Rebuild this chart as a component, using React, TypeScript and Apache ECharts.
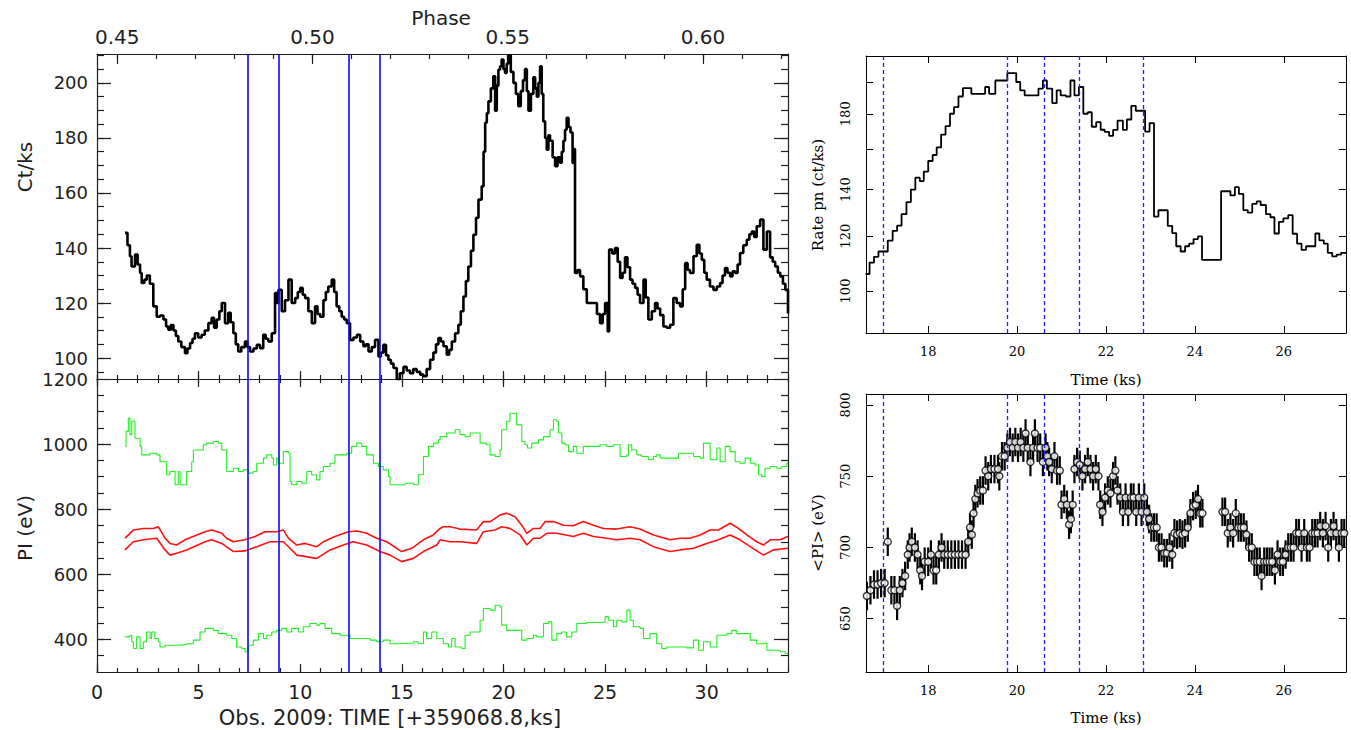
import React, { useEffect, useRef } from "react";
import * as echarts from "echarts";

// ---- Left column: light curve and PI bands vs observation time (ks) ----
const countRate: [number, number][] = [
  [1.38, 145.5], [1.5, 141], [1.62, 137], [1.7, 133.3], [1.87, 137.6], [2.0, 134], [2.12, 130.9], [2.2, 127.3],
  [2.33, 128.5], [2.45, 130], [2.6, 127], [2.77, 118.8], [2.94, 115], [3.1, 115.5], [3.27, 114], [3.4, 111.5],
  [3.51, 110.3], [3.63, 112], [3.76, 110], [3.88, 108], [4.0, 106], [4.15, 104], [4.33, 101.8], [4.45, 103.5],
  [4.58, 105.5], [4.7, 107], [4.82, 109], [4.98, 107.5], [5.15, 108.5], [5.3, 110], [5.48, 112.7], [5.64, 114.6],
  [5.76, 111], [5.89, 114], [6.02, 117], [6.14, 120], [6.3, 112.7], [6.46, 116.5], [6.58, 113], [6.71, 109],
  [6.83, 105], [6.95, 102.4], [7.1, 104], [7.28, 106], [7.4, 104], [7.53, 102.4], [7.7, 103.5], [7.86, 104.8],
  [8.02, 103.6], [8.18, 108.5], [8.3, 107], [8.43, 106], [8.6, 109], [8.76, 123.6], [8.85, 120], [8.93, 124.8],
  [9.09, 117], [9.25, 121], [9.42, 128.5], [9.58, 120], [9.75, 121.8], [9.88, 124], [10.0, 125.5], [10.12, 123],
  [10.24, 121.8], [10.4, 117], [10.57, 112.7], [10.73, 118.8], [10.85, 116], [10.98, 115], [11.14, 121], [11.26, 124],
  [11.38, 126], [11.55, 128.5], [11.67, 124], [11.79, 118.8], [11.92, 117], [12.04, 115], [12.16, 114], [12.29, 112.7],
  [12.45, 106.6], [12.62, 107.5], [12.79, 108.5], [12.95, 106], [13.11, 104.3], [13.23, 105], [13.36, 102.4], [13.52, 104],
  [13.68, 106.6], [13.85, 100.6], [13.97, 102], [14.09, 104.8], [14.22, 101], [14.34, 99.4], [14.46, 98], [14.59, 96.4],
  [14.75, 92.1], [14.9, 94.5], [15.08, 96.8], [15.24, 95.5], [15.4, 94.5], [15.56, 96], [15.73, 95], [15.9, 94],
  [16.06, 93.4], [16.22, 96], [16.39, 99.4], [16.55, 102], [16.68, 105], [16.8, 107.3], [16.92, 106], [17.05, 104.3],
  [17.21, 101.2], [17.33, 103], [17.46, 106], [17.62, 109], [17.78, 112.1], [17.9, 117], [18.03, 122.4], [18.15, 128],
  [18.27, 133.3], [18.4, 139], [18.52, 144.8], [18.65, 151], [18.77, 157.6], [18.93, 162.4], [19.02, 175], [19.1, 185.5],
  [19.18, 189], [19.26, 193.3], [19.38, 198], [19.5, 202.4], [19.59, 189.9], [19.67, 199], [19.75, 204.8], [19.83, 206],
  [19.91, 208.5], [20.0, 205], [20.08, 203.6], [20.16, 207], [20.24, 210], [20.36, 204], [20.49, 200], [20.61, 196],
  [20.73, 191.5], [20.85, 197], [20.96, 201], [21.06, 205], [21.15, 197], [21.23, 189.9], [21.35, 196], [21.47, 202],
  [21.56, 198], [21.64, 195], [21.72, 200], [21.8, 206], [21.88, 196], [21.96, 186], [22.05, 180], [22.13, 175.7],
  [22.21, 181], [22.29, 179], [22.42, 173], [22.54, 169.7], [22.66, 173], [22.78, 171], [22.87, 175], [22.95, 179],
  [23.03, 183], [23.11, 187.3], [23.2, 184], [23.3, 182], [23.4, 170.9], [23.47, 176], [23.52, 130.9], [23.64, 132],
  [23.77, 129.7], [23.93, 125], [24.1, 120], [24.27, 120], [24.43, 120], [24.6, 116], [24.75, 112.7], [24.88, 116],
  [25.0, 120], [25.13, 109.7], [25.2, 139.4], [25.35, 138], [25.49, 140], [25.62, 135], [25.74, 129.1], [25.86, 131],
  [25.98, 136.6], [26.1, 133], [26.23, 128.5], [26.35, 127], [26.48, 125.5], [26.6, 123], [26.72, 120], [26.89, 128.5],
  [27.0, 122], [27.13, 114], [27.3, 117], [27.46, 120], [27.58, 118], [27.71, 115.6], [27.87, 111.5], [28.03, 111],
  [28.2, 112.1], [28.36, 121.8], [28.52, 120], [28.69, 118.8], [28.82, 125], [28.94, 134.5], [29.06, 132], [29.18, 130.9],
  [29.35, 137], [29.51, 141.2], [29.64, 138], [29.76, 135.7], [29.88, 131], [30.0, 128.5], [30.16, 126], [30.33, 124.8],
  [30.5, 126], [30.66, 127.3], [30.78, 130], [30.9, 132.7], [31.02, 131], [31.15, 129.7], [31.27, 131.5], [31.4, 130.9],
  [31.52, 134], [31.64, 138.2], [31.8, 141], [31.97, 143], [32.1, 145], [32.22, 146], [32.34, 144], [32.46, 147.9],
  [32.63, 150.3], [32.79, 139.4], [32.96, 146], [33.12, 136.6], [33.25, 135], [33.37, 133.3], [33.5, 131], [33.62, 129.7],
  [33.75, 127], [33.87, 124.8], [34.0, 116.2],
];

const greenUpper: [number, number][] = [
  [1.38, 993], [1.43, 1039], [1.54, 1080], [1.62, 1029], [1.71, 1070], [1.87, 1018], [2.12, 993], [2.2, 967],
  [2.61, 972], [2.94, 967], [3.1, 946], [3.35, 946], [3.43, 906], [3.59, 916], [3.84, 875], [4.0, 916],
  [4.09, 875], [4.33, 875], [4.41, 916], [4.66, 946], [4.74, 982], [5.23, 998], [5.4, 1003], [5.73, 1008],
  [5.97, 1003], [6.14, 982], [6.38, 916], [6.71, 926], [6.96, 916], [7.2, 921], [7.45, 911], [7.69, 916],
  [7.86, 941], [8.19, 957], [8.35, 967], [8.6, 957], [8.68, 936], [8.84, 957], [8.92, 941], [9.17, 977],
  [9.42, 972], [9.5, 885], [9.58, 875], [9.83, 885], [10.07, 880], [10.32, 916], [10.56, 906], [10.81, 890],
  [10.97, 916], [11.14, 931], [11.47, 941], [11.71, 967], [11.96, 967], [12.29, 972], [12.53, 993], [12.78, 1003],
  [13.03, 993], [13.27, 967], [13.6, 941], [13.85, 931], [14.09, 921], [14.34, 900], [14.42, 875], [14.75, 875],
  [15.16, 880], [15.57, 875], [15.81, 906], [16.06, 962], [16.31, 993], [16.55, 1003], [16.8, 1013], [16.88, 1023],
  [17.21, 1034], [17.62, 1044], [17.86, 1029], [18.11, 1023], [18.36, 1034], [18.68, 1034], [18.85, 1003], [19.18, 998],
  [19.34, 967], [19.59, 962], [19.83, 982], [19.91, 1044], [20.16, 1070], [20.32, 1095], [20.49, 1095], [20.65, 1059],
  [20.82, 1059], [20.9, 1008], [21.06, 998], [21.18, 988], [21.39, 1003], [21.72, 1013], [21.97, 1023], [22.29, 1044],
  [22.46, 1075], [22.62, 1070], [22.7, 1034], [22.87, 1003], [23.03, 998], [23.2, 977], [23.44, 993], [23.61, 972],
  [23.93, 993], [24.43, 993], [24.75, 998], [25.08, 993], [25.41, 998], [25.74, 962], [26.07, 967], [26.15, 998],
  [26.31, 982], [26.56, 967], [26.8, 962], [27.13, 952], [27.38, 962], [27.54, 967], [27.71, 957], [28.36, 957],
  [28.61, 972], [29.02, 972], [29.35, 962], [29.68, 957], [29.84, 1003], [30.09, 1003], [30.17, 952], [30.41, 952],
  [30.5, 988], [30.66, 946], [30.91, 993], [31.15, 977], [31.4, 946], [31.64, 941], [31.89, 957], [32.14, 941],
  [32.38, 936], [32.55, 906], [32.71, 900], [32.87, 926], [33.12, 931], [33.45, 926], [33.69, 931], [33.94, 941],
  [34.0, 941],
];

const redUpper: [number, number][] = [
  [1.38, 711], [1.79, 736], [2.28, 741], [2.77, 741], [3.02, 746], [3.35, 711], [3.59, 695], [3.92, 690],
  [4.33, 706], [4.91, 721], [5.32, 731], [5.64, 736], [6.14, 726], [6.38, 711], [6.71, 700], [7.28, 706],
  [7.78, 716], [8.27, 731], [8.84, 731], [9.17, 736], [9.42, 711], [9.83, 690], [10.24, 695], [10.81, 685],
  [11.14, 700], [11.71, 716], [12.37, 731], [12.78, 733], [13.27, 726], [13.76, 711], [14.26, 700], [14.99, 670],
  [15.49, 680], [16.06, 706], [16.55, 721], [16.88, 741], [17.04, 746], [17.37, 746], [17.86, 739], [18.68, 736],
  [19.01, 762], [19.34, 762], [19.59, 772], [19.83, 782], [20.16, 788], [20.57, 777], [20.9, 751], [21.15, 726],
  [21.47, 741], [21.8, 741], [22.05, 762], [22.46, 762], [22.95, 751], [23.44, 749], [23.93, 762], [24.43, 751],
  [24.92, 741], [25.57, 739], [26.23, 746], [26.72, 739], [27.38, 721], [28.2, 706], [28.69, 711], [29.18, 711],
  [29.68, 721], [30.17, 736], [30.58, 736], [31.15, 757], [31.56, 741], [31.97, 721], [32.46, 700], [32.79, 690],
  [33.12, 706], [33.61, 706], [34.0, 716],
];

const redLower: [number, number][] = [
  [1.38, 675], [1.79, 700], [2.28, 706], [2.94, 711], [3.35, 675], [3.59, 659], [3.92, 665], [4.41, 675],
  [5.32, 700], [5.64, 706], [6.14, 695], [6.71, 670], [7.28, 672], [7.86, 685], [8.51, 700], [9.17, 700],
  [9.5, 680], [9.83, 659], [10.81, 649], [11.47, 675], [12.12, 690], [12.6, 700], [13.27, 690], [13.93, 670],
  [14.42, 659], [14.99, 639], [15.57, 649], [16.06, 670], [16.72, 690], [16.88, 706], [17.37, 700], [17.86, 700],
  [18.68, 695], [19.01, 731], [19.59, 736], [19.91, 746], [20.32, 741], [20.82, 721], [21.15, 690], [21.47, 711],
  [21.8, 711], [22.13, 726], [22.62, 726], [23.44, 716], [23.93, 726], [24.43, 716], [25.08, 711], [25.57, 706],
  [26.23, 711], [26.72, 706], [27.38, 685], [28.2, 670], [28.69, 675], [29.35, 680], [30.0, 695], [30.58, 706],
  [31.15, 721], [31.64, 706], [32.14, 685], [32.79, 659], [33.28, 675], [34.0, 680],
];

const greenLower: [number, number][] = [
  [1.38, 408], [1.62, 413], [1.71, 393], [1.79, 372], [1.95, 408], [2.12, 372], [2.28, 393], [2.44, 423],
  [2.61, 403], [2.69, 423], [2.85, 403], [3.02, 393], [3.1, 377], [3.35, 382], [3.92, 384], [4.41, 387],
  [4.74, 398], [5.07, 423], [5.32, 434], [5.73, 428], [5.97, 418], [6.38, 413], [6.63, 403], [6.87, 377],
  [7.12, 372], [7.28, 362], [7.45, 382], [7.69, 398], [7.94, 418], [8.19, 403], [8.35, 413], [8.6, 423],
  [8.84, 428], [9.09, 434], [9.34, 423], [9.58, 434], [9.91, 423], [10.15, 439], [10.48, 449], [10.81, 444],
  [10.97, 449], [11.22, 434], [11.55, 418], [11.96, 413], [12.45, 403], [12.94, 403], [13.44, 398], [13.76, 393],
  [14.09, 398], [14.42, 387], [14.91, 389], [15.57, 393], [15.81, 387], [16.06, 423], [16.22, 403], [16.47, 423],
  [16.72, 403], [17.04, 387], [17.29, 377], [17.45, 403], [17.62, 377], [17.95, 372], [18.11, 413], [18.36, 423],
  [18.85, 459], [19.01, 495], [19.34, 490], [19.59, 505], [19.83, 500], [19.91, 444], [20.16, 428], [20.9, 398],
  [21.15, 403], [21.47, 413], [21.64, 408], [21.97, 449], [22.21, 454], [22.38, 398], [22.62, 418], [22.87, 423],
  [23.11, 408], [23.36, 423], [23.61, 449], [24.1, 452], [24.75, 454], [25.0, 470], [25.16, 459], [25.41, 439],
  [25.57, 459], [25.82, 454], [26.07, 490], [26.23, 459], [26.39, 439], [26.72, 434], [26.89, 403], [27.21, 418],
  [27.54, 387], [27.79, 372], [28.03, 377], [29.02, 374], [29.35, 398], [29.59, 367], [29.84, 393], [30.17, 377],
  [30.5, 413], [30.99, 418], [31.23, 428], [31.48, 418], [32.14, 398], [32.46, 387], [32.79, 389], [32.96, 367],
  [33.61, 362], [33.86, 357], [34.0, 357],
];

// time intervals marked across both left panels (ks)
const intervalMarks = [7.4, 8.93, 12.41, 13.93];

// ---- Right column: zoom on the flare ----
const ratePn: [number, number][] = [
  [16.59, 105.8], [16.68, 109.9], [16.78, 112], [16.88, 114], [17.09, 118.2], [17.2, 122.1], [17.3, 124.2], [17.4, 129],
  [17.51, 134.3], [17.61, 140], [17.71, 145.6], [17.81, 144], [17.9, 148.6], [18.0, 153.9], [18.1, 157], [18.19, 161],
  [18.29, 168], [18.39, 172.8], [18.49, 180], [18.58, 184], [18.68, 190.6], [18.78, 196], [18.88, 196], [18.97, 192.3],
  [19.09, 192.3], [19.19, 192.3], [19.28, 196.7], [19.37, 192.3], [19.51, 201], [19.61, 201], [19.71, 201], [19.78, 206],
  [19.9, 206], [19.98, 200], [20.07, 194.5], [20.17, 191.3], [20.29, 191.3], [20.38, 191.3], [20.48, 195.7], [20.58, 201],
  [20.67, 195.7], [20.79, 186.5], [20.89, 194.5], [20.98, 191.3], [21.1, 190.6], [21.2, 201], [21.29, 191.3], [21.39, 196.7],
  [21.49, 180], [21.59, 180.9], [21.68, 172.4], [21.78, 175.1], [21.88, 170.7], [21.97, 169.5], [22.07, 167.3], [22.16, 170.6],
  [22.26, 176], [22.38, 170.6], [22.47, 176.6], [22.57, 184.8], [22.67, 181.8], [22.78, 181.8], [22.88, 169.6], [22.98, 174.5],
  [23.08, 128], [23.18, 130.7], [23.29, 130.7], [23.39, 124.1], [23.49, 121.2], [23.58, 116], [23.68, 114], [23.78, 116],
  [23.87, 117], [23.97, 118.8], [24.07, 119.9], [24.16, 110.9], [24.59, 139.2], [24.8, 137.3], [24.9, 141.1], [24.99, 138],
  [25.09, 130.8], [25.19, 129.7], [25.29, 133.5], [25.39, 134.6], [25.48, 133], [25.6, 129], [25.7, 127.7], [25.79, 121],
  [25.89, 125.8], [25.99, 127.2], [26.1, 128.6], [26.2, 120.9], [26.3, 117], [26.4, 114.6], [26.5, 116], [26.6, 116],
  [26.71, 121], [26.8, 118.3], [26.9, 117], [26.99, 113.5], [27.09, 112.2], [27.19, 112.8], [27.29, 113.5], [27.4, 113.5],
];

const meanPI: [number, number][] = [
  [16.62, 666], [16.7, 670], [16.78, 674], [16.86, 674], [16.94, 675], [17.02, 675], [17.09, 704], [17.17, 670],
  [17.24, 670], [17.3, 659], [17.36, 670], [17.42, 675], [17.48, 680], [17.54, 695], [17.58, 700], [17.63, 704],
  [17.7, 700], [17.76, 695], [17.82, 684], [17.86, 680], [17.92, 690], [18.0, 690], [18.06, 695], [18.12, 684],
  [18.18, 684], [18.24, 695], [18.3, 700], [18.36, 695], [18.44, 695], [18.52, 695], [18.6, 695], [18.68, 695],
  [18.76, 695], [18.84, 695], [18.9, 704], [18.94, 714], [18.98, 709], [19.02, 724], [19.06, 734], [19.11, 738],
  [19.17, 740], [19.23, 740], [19.29, 754], [19.35, 750], [19.41, 755], [19.49, 755], [19.57, 755], [19.6, 750],
  [19.66, 764], [19.72, 764], [19.78, 770], [19.84, 774], [19.9, 770], [19.96, 774], [20.02, 770], [20.08, 774],
  [20.14, 770], [20.19, 780], [20.24, 770], [20.3, 760], [20.36, 770], [20.4, 780], [20.46, 770], [20.52, 770],
  [20.58, 760], [20.64, 770], [20.68, 764], [20.72, 760], [20.78, 755], [20.84, 764], [20.9, 754], [20.96, 754],
  [21.0, 730], [21.06, 734], [21.12, 730], [21.17, 716], [21.21, 720], [21.25, 730], [21.29, 755], [21.35, 760],
  [21.41, 758], [21.47, 750], [21.53, 755], [21.59, 760], [21.65, 755], [21.71, 750], [21.77, 755], [21.83, 750],
  [21.87, 730], [21.92, 725], [21.98, 735], [22.04, 740], [22.1, 738], [22.16, 750], [22.21, 754], [22.26, 740],
  [22.32, 735], [22.38, 725], [22.44, 735], [22.5, 725], [22.56, 735], [22.62, 735], [22.68, 725], [22.74, 735],
  [22.8, 725], [22.86, 735], [22.92, 725], [22.97, 720], [23.02, 714], [23.08, 714], [23.14, 714], [23.19, 700],
  [23.25, 700], [23.31, 696], [23.37, 696], [23.43, 700], [23.49, 695], [23.54, 710], [23.6, 709], [23.66, 710],
  [23.72, 709], [23.78, 710], [23.84, 714], [23.9, 724], [23.96, 729], [24.02, 730], [24.07, 734], [24.12, 724],
  [24.17, 724],
  [24.62, 725], [24.68, 725], [24.74, 710], [24.8, 714], [24.86, 710], [24.92, 724], [24.98, 714], [25.04, 714],
  [25.1, 714], [25.16, 709], [25.22, 700], [25.28, 700], [25.34, 690], [25.4, 690], [25.46, 690], [25.5, 680],
  [25.56, 690], [25.62, 690], [25.68, 690], [25.74, 690], [25.8, 684], [25.86, 695], [25.92, 690], [25.98, 690],
  [26.04, 695], [26.1, 700], [26.16, 700], [26.22, 700], [26.28, 710], [26.34, 710], [26.4, 700], [26.46, 710],
  [26.52, 700], [26.58, 700], [26.64, 710], [26.7, 710], [26.76, 710], [26.82, 715], [26.88, 710], [26.94, 715],
  [27.0, 700], [27.06, 710], [27.12, 715], [27.18, 710], [27.24, 700], [27.3, 710], [27.36, 710],
];
const PI_ERR = 10;

// boundaries of the spectral slices (ks)
const sliceMarks = [16.99, 19.77, 20.6, 21.39, 22.83];

// ---- tick values ----
const timeMajor = [0, 5, 10, 15, 20, 25, 30];
const phaseMajor = [0.45, 0.5, 0.55, 0.6];
const countMajor = [100, 120, 140, 160, 180, 200];
const piMajor = [400, 600, 800, 1000, 1200];
const zoomTime = [18, 20, 22, 24, 26];
const rateTicks = [100, 120, 140, 160, 180, 200];
const rateLabels = [100, 120, 140, 180];
const meanPITicks = [650, 700, 750, 800];

function seq(from: number, to: number, step: number): number[] {
  const out: number[] = [];
  const n = Math.round((to - from) / step);
  for (let i = 0; i <= n; i++) out.push(Math.round((from + i * step) * 1000) / 1000);
  return out;
}

const SANS = "DejaVu Sans";
const SERIF = "DejaVu Serif";
const INK = "#1e1e1e";

type AxisSpec = {
  grid: number;
  position: string;
  min: number;
  max: number;
  ticks: number[];
  tickLen: number;
  line?: boolean;
  labels?: number[];
  formatter?: (v: number) => string;
  label?: Record<string, unknown>;
  color?: string;
  width?: number;
};

const plain = (v: number) => String(v);

function axis(s: AxisSpec) {
  const color = s.color ?? INK;
  const width = s.width ?? 1.2;
  return {
    type: "value",
    gridIndex: s.grid,
    position: s.position,
    min: s.min,
    max: s.max,
    scale: true,
    splitLine: { show: false },
    axisLine: { show: s.line !== false, onZero: false, lineStyle: { color, width } },
    axisTick: { show: true, inside: true, length: s.tickLen, customValues: s.ticks, lineStyle: { color, width } },
    axisLabel: s.labels
      ? { show: true, customValues: s.labels, formatter: s.formatter ?? plain, ...s.label }
      : { show: false },
  };
}

const leftLabel = { fontFamily: SANS, fontSize: 18, color: INK };
const rightLabel = { fontFamily: SERIF, fontSize: 13, color: "#000" };

const T_MIN = 0, T_MAX = 34;
const PH_MIN = 0.4448, PH_MAX = 0.6218;
const C_MIN = 92.4, C_MAX = 210.5;
const P_MIN = 300, P_MAX = 1200;
const Z_MIN = 16.6, Z_MAX = 27.4;
const R_MIN = Math.log10(87), R_MAX = Math.log10(218);
const M_MIN = 612.6, M_MAX = 807.7;

const xAxes = [
  // grid 0: count rate
  axis({ grid: 0, position: "bottom", min: T_MIN, max: T_MAX, ticks: seq(0, 34, 1), tickLen: 4 }),
  axis({
    grid: 0, position: "top", min: PH_MIN, max: PH_MAX, ticks: seq(0.45, 0.62, 0.01), tickLen: 5,
    labels: phaseMajor, formatter: (v: number) => v.toFixed(2), label: { ...leftLabel, fontSize: 20, margin: 7 },
  }),
  // grid 1: PI
  axis({
    grid: 1, position: "bottom", min: T_MIN, max: T_MAX, ticks: seq(0, 34, 1), tickLen: 4,
    labels: timeMajor, label: { ...leftLabel, fontSize: 19, margin: 10 },
  }),
  axis({ grid: 1, position: "top", min: T_MIN, max: T_MAX, ticks: seq(0, 34, 1), tickLen: 4 }),
  // grid 2: rate pn
  axis({
    grid: 2, position: "bottom", min: Z_MIN, max: Z_MAX, ticks: zoomTime, tickLen: 7, color: "#000", width: 1,
    labels: zoomTime, label: { ...rightLabel, margin: 12 },
  }),
  axis({ grid: 2, position: "top", min: Z_MIN, max: Z_MAX, ticks: zoomTime, tickLen: 7, color: "#000", width: 1 }),
  // grid 3: <PI>
  axis({
    grid: 3, position: "bottom", min: Z_MIN, max: Z_MAX, ticks: zoomTime, tickLen: 7, color: "#000", width: 1,
    labels: zoomTime, label: { ...rightLabel, margin: 12 },
  }),
  axis({ grid: 3, position: "top", min: Z_MIN, max: Z_MAX, ticks: zoomTime, tickLen: 7, color: "#000", width: 1 }),
  // overlay grids carrying the long major ticks of the left panels
  axis({ grid: 4, position: "bottom", min: T_MIN, max: T_MAX, ticks: timeMajor, tickLen: 8, line: false }),
  axis({ grid: 4, position: "top", min: PH_MIN, max: PH_MAX, ticks: phaseMajor, tickLen: 10, line: false }),
  axis({ grid: 5, position: "bottom", min: T_MIN, max: T_MAX, ticks: timeMajor, tickLen: 8, line: false }),
  axis({ grid: 5, position: "top", min: T_MIN, max: T_MAX, ticks: timeMajor, tickLen: 8, line: false }),
];

const yAxes = [
  axis({
    grid: 0, position: "left", min: C_MIN, max: C_MAX, ticks: seq(95, 210, 5), tickLen: 7,
    labels: countMajor, label: { ...leftLabel, margin: 9 },
  }),
  axis({ grid: 0, position: "right", min: C_MIN, max: C_MAX, ticks: seq(95, 210, 5), tickLen: 7 }),
  axis({
    grid: 1, position: "left", min: P_MIN, max: P_MAX, ticks: seq(350, 1150, 50), tickLen: 7,
    labels: piMajor, label: { ...leftLabel, margin: 9 },
  }),
  axis({ grid: 1, position: "right", min: P_MIN, max: P_MAX, ticks: seq(350, 1150, 50), tickLen: 7 }),
  axis({
    grid: 2, position: "left", min: R_MIN, max: R_MAX, ticks: rateTicks.map(Math.log10), tickLen: 7,
    color: "#000", width: 1, labels: rateLabels.map(Math.log10),
    formatter: (v: number) => String(Math.round(Math.pow(10, v))),
    label: { ...rightLabel, rotate: 90, margin: 14 },
  }),
  axis({ grid: 2, position: "right", min: R_MIN, max: R_MAX, ticks: rateTicks.map(Math.log10), tickLen: 7, color: "#000", width: 1 }),
  axis({
    grid: 3, position: "left", min: M_MIN, max: M_MAX, ticks: meanPITicks, tickLen: 7, color: "#000", width: 1,
    labels: meanPITicks, label: { ...rightLabel, rotate: 90, margin: 14 },
  }),
  axis({ grid: 3, position: "right", min: M_MIN, max: M_MAX, ticks: meanPITicks, tickLen: 7, color: "#000", width: 1 }),
  axis({ grid: 4, position: "left", min: C_MIN, max: C_MAX, ticks: countMajor, tickLen: 14, line: false }),
  axis({ grid: 4, position: "right", min: C_MIN, max: C_MAX, ticks: countMajor, tickLen: 14, line: false }),
  axis({ grid: 5, position: "left", min: P_MIN, max: P_MAX, ticks: piMajor, tickLen: 14, line: false }),
  axis({ grid: 5, position: "right", min: P_MIN, max: P_MAX, ticks: piMajor, tickLen: 14, line: false }),
];

const solidMarks = {
  silent: true,
  symbol: ["none", "none"],
  label: { show: false },
  lineStyle: { color: "#0a0aff", width: 1.6, type: "solid" },
  data: intervalMarks.map((x) => ({ xAxis: x })),
};

const dashedMarks = {
  silent: true,
  symbol: ["none", "none"],
  label: { show: false },
  lineStyle: { color: "#1f1fff", width: 1.3, type: [4, 3] },
  data: sliceMarks.map((x) => ({ xAxis: x })),
};

function piLine(data: [number, number][], color: string, width: number, step: boolean, withMarks: boolean) {
  return {
    type: "line",
    xAxisIndex: 2,
    yAxisIndex: 2,
    data,
    step: step ? "end" : false,
    showSymbol: false,
    symbol: "none",
    lineStyle: { color, width },
    z: 3,
    ...(withMarks ? { markLine: solidMarks } : {}),
  };
}

const gridBox = (left: number, top: number, width: number, height: number) => ({
  left, top, width, height, containLabel: false, outerBoundsMode: "none",
});

const titleFont = `20px '${SANS}'`;
const serifTitle = `15px '${SERIF}'`;

const option = {
  animation: false,
  backgroundColor: "#ffffff",
  grid: [
    gridBox(97, 54, 691, 325),
    gridBox(97, 379, 691, 293),
    gridBox(866, 56, 480, 277),
    gridBox(866, 394, 480, 278),
    gridBox(97, 54, 691, 325),
    gridBox(97, 379, 691, 293),
  ],
  xAxis: xAxes,
  yAxis: yAxes,
  series: [
    {
      type: "line",
      xAxisIndex: 0,
      yAxisIndex: 0,
      data: countRate,
      step: "end",
      showSymbol: false,
      symbol: "none",
      lineStyle: { color: "#000", width: 2.6 },
      z: 3,
      markLine: solidMarks,
    },
    piLine(greenUpper, "#22ee22", 1.1, true, true),
    piLine(redUpper, "#ff1010", 1.6, false, false),
    piLine(redLower, "#ff1010", 1.6, false, false),
    piLine(greenLower, "#22ee22", 1.1, true, false),
    {
      type: "line",
      xAxisIndex: 4,
      yAxisIndex: 4,
      data: ratePn.map(([t, r]) => [t, Math.log10(r)]),
      step: "end",
      showSymbol: false,
      symbol: "none",
      lineStyle: { color: "#000", width: 1.8 },
      z: 3,
      markLine: dashedMarks,
    },
    {
      type: "custom",
      xAxisIndex: 6,
      yAxisIndex: 6,
      data: meanPI.map(([t, v]) => [t, v - PI_ERR, v + PI_ERR]),
      encode: { x: 0, y: [1, 2] },
      clip: true,
      z: 3,
      renderItem: (_params: unknown, api: any) => {
        const lo = api.coord([api.value(0), api.value(1)]);
        const hi = api.coord([api.value(0), api.value(2)]);
        return {
          type: "line",
          shape: { x1: lo[0], y1: lo[1], x2: hi[0], y2: hi[1] },
          style: { stroke: "#000", lineWidth: 2.2 },
        };
      },
    },
    {
      type: "scatter",
      xAxisIndex: 6,
      yAxisIndex: 6,
      data: meanPI,
      symbol: "circle",
      symbolSize: 7,
      itemStyle: { color: "#ffffff", borderColor: "#000", borderWidth: 1.4 },
      z: 4,
      markLine: dashedMarks,
    },
  ],
  graphic: [
    {
      type: "text", x: 441, y: 18,
      style: { text: "Phase", font: titleFont, fill: INK, textAlign: "center", textVerticalAlign: "middle" },
    },
    {
      type: "text", x: 25, y: 167, rotation: Math.PI / 2,
      style: { text: "Ct/ks", font: titleFont, fill: INK, textAlign: "center", textVerticalAlign: "middle" },
    },
    {
      type: "text", x: 25, y: 528, rotation: Math.PI / 2,
      style: { text: "PI (eV)", font: titleFont, fill: INK, textAlign: "center", textVerticalAlign: "middle" },
    },
    {
      type: "text", x: 390, y: 718,
      style: { text: "Obs. 2009: TIME [+359068.8,ks]", font: `21px '${SANS}'`, fill: INK, textAlign: "center", textVerticalAlign: "middle" },
    },
    {
      type: "text", x: 818, y: 195, rotation: Math.PI / 2,
      style: { text: "Rate pn (ct/ks)", font: serifTitle, fill: "#000", textAlign: "center", textVerticalAlign: "middle" },
    },
    {
      type: "text", x: 1106, y: 380,
      style: { text: "Time (ks)", font: serifTitle, fill: "#000", textAlign: "center", textVerticalAlign: "middle" },
    },
    {
      type: "text", x: 818, y: 533, rotation: Math.PI / 2,
      style: { text: "<PI> (eV)", font: serifTitle, fill: "#000", textAlign: "center", textVerticalAlign: "middle" },
    },
    {
      type: "text", x: 1106, y: 718,
      style: { text: "Time (ks)", font: serifTitle, fill: "#000", textAlign: "center", textVerticalAlign: "middle" },
    },
  ],
};

export default function App() {
  const ref = useRef<HTMLDivElement>(null);
  useEffect(() => {
    if (!ref.current) return;
    const chart = echarts.init(ref.current, null, { renderer: "svg" });
    chart.setOption(option as any);
    return () => chart.dispose();
  }, []);
  return (
    <div
      ref={ref}
      style={{ position: "fixed", left: 0, top: 0, width: 1351, height: 730, background: "#fff" }}
    />
  );
}
